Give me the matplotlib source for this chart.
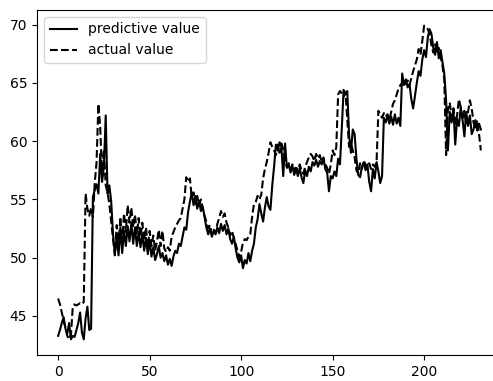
import numpy as np
import matplotlib
matplotlib.use('Agg')
import matplotlib.pyplot as plt


# values, one per step
actual_value = [
    46.5, 46.0, 45.3, 44.6, 44.0, 43.3, 43.0, 43.4, 45.8, 46.0,
    45.9, 46.0, 46.1, 46.0, 46.2, 55.5, 54.2, 53.6, 54.3, 53.5,
    56.4, 58.2, 63.2, 61.2, 57.0, 59.3, 56.2, 55.6, 54.6, 53.1,
    51.6, 50.2, 52.8, 51.0, 53.5, 51.3, 53.8, 52.2, 54.5, 53.0,
    54.3, 52.6, 53.7, 52.0, 53.4, 51.8, 53.0, 51.5, 52.6, 50.9,
    52.3, 51.0, 51.9, 50.6, 51.4, 52.4, 51.0, 52.3, 50.8, 50.5,
    50.9, 50.6, 51.8, 52.2, 52.6, 52.9, 53.2, 53.4, 54.2, 55.0,
    56.9, 56.5, 56.8, 55.2, 55.6, 54.6, 55.3, 54.5, 55.0, 54.2,
    53.6, 53.1, 52.5, 52.8, 52.0, 52.4, 52.1, 52.9, 53.4, 54.0,
    53.5, 53.8, 53.0, 52.6, 51.9, 52.3, 51.7, 51.2, 50.6, 50.0,
    50.5, 51.3, 51.6, 51.5, 51.8, 52.0, 53.5, 54.6, 54.8, 55.3,
    55.0, 55.4, 56.8, 57.6, 58.2, 59.0, 59.9, 59.5, 59.2, 58.8,
    59.7, 59.0, 59.8, 59.3, 58.4, 57.8, 58.1, 57.6, 58.0, 57.4,
    57.9, 57.3, 58.0, 57.5, 57.2, 57.8, 58.2, 58.6, 58.9, 58.7,
    58.3, 58.9, 58.5, 58.8, 58.2, 58.6, 58.0, 57.7, 57.2, 58.0,
    59.2, 58.8, 59.5, 64.0, 64.3, 64.1, 63.8, 64.2, 61.8, 59.5,
    59.8, 59.2, 58.6, 57.5, 57.2, 58.1, 57.6, 58.3, 58.0, 57.7,
    58.1, 57.6, 58.0, 57.8, 58.2, 62.6, 62.3, 62.0, 62.4, 62.1,
    62.3, 61.8, 62.5, 63.2, 63.5, 64.0, 64.5, 64.8, 65.0, 65.3,
    64.9, 65.2, 64.8, 65.4, 66.0, 66.5, 67.0, 67.9, 67.4, 68.6,
    69.9, 69.8, 69.6, 69.2, 68.2, 67.6, 68.3, 67.5, 68.0, 67.2,
    66.5, 65.3, 58.8, 62.8, 63.3, 62.0, 62.8, 61.5, 62.2, 63.6,
    62.9, 61.8, 62.6, 61.4, 62.5, 63.5, 62.8, 61.6, 61.0, 61.8,
    60.6, 59.2,
]

predictive_value = [
    43.3, 43.8, 44.4, 44.9, 43.9, 43.5, 44.4, 43.0, 43.3, 43.2,
    43.8, 44.4, 45.3, 43.6, 43.0, 44.8, 45.8, 43.8, 43.9, 55.2,
    55.8, 56.3, 55.5, 58.9, 56.5, 57.8, 62.2, 55.5, 56.2, 54.8,
    52.0, 50.3, 51.8, 50.2, 52.6, 50.4, 52.3, 51.0, 52.7, 51.4,
    53.0, 51.2, 52.6, 51.0, 52.2, 50.9, 52.0, 50.6, 51.7, 50.3,
    51.5, 50.1, 50.9, 49.8, 50.3, 51.0, 50.0, 50.4, 49.7, 50.2,
    49.4, 49.9, 49.3, 50.1, 50.6, 50.4, 51.2, 51.0, 51.8, 52.6,
    52.4, 53.9, 54.8, 55.6, 54.5, 55.3, 54.2, 54.9, 54.0, 54.4,
    53.5, 52.6, 52.0, 52.5, 51.8, 52.3, 52.0, 52.6, 52.1, 52.9,
    52.3, 52.8, 52.0, 52.5, 51.6, 51.2, 51.8, 50.8, 50.0, 49.6,
    50.2, 49.1, 49.8, 49.5, 50.4, 49.7, 50.6, 51.2, 52.6, 53.3,
    54.6, 53.8, 53.1, 54.3, 55.2, 54.4, 54.1, 56.2, 57.8, 59.7,
    59.2, 59.9, 59.5, 57.0, 59.8, 57.7, 58.0, 57.3, 57.9, 57.1,
    57.6, 57.0, 57.7, 56.9, 56.4, 57.5, 57.0, 57.8, 57.4, 58.2,
    57.9, 58.4, 57.8, 58.3, 58.0, 58.5, 57.6, 57.3, 55.7, 57.0,
    56.8, 57.4, 57.0, 58.5, 58.0, 61.1, 64.4, 64.0, 64.3, 60.5,
    59.0, 61.0, 60.6, 58.5, 57.1, 56.9, 57.8, 58.2, 57.5, 58.0,
    56.5, 55.7, 57.6, 56.8, 58.2, 57.4, 56.4, 57.0, 62.0, 61.6,
    62.2, 61.5, 62.1, 61.4, 62.3, 61.5, 62.0, 61.3, 65.8, 64.8,
    65.3, 64.6, 64.9, 63.6, 62.8, 63.9, 65.0, 66.0, 65.6, 67.0,
    67.8, 67.2, 68.9, 69.6, 69.2, 68.0, 67.4, 68.5, 67.1, 67.8,
    66.8, 65.8, 63.5, 59.2, 62.5, 61.6, 62.8, 59.7, 61.9, 61.3,
    62.9, 61.8, 60.4, 62.5, 61.3, 62.2, 60.6, 61.0, 61.8, 60.9,
    61.5, 61.0,
]


fig = plt.figure(figsize=(4.93, 3.81), dpi=100)
# the reference is cut off on the right, so the axes run past the edge
ax = fig.add_axes([37 / 493, 26 / 381, 465 / 493, 345 / 381])

ax.plot(predictive_value, color='black', linestyle='-', label='predictive value')
ax.plot(actual_value, color='black', linestyle='--', label='actual value')
ax.legend(loc='upper left')

fig.savefig('out.png', dpi=100)
